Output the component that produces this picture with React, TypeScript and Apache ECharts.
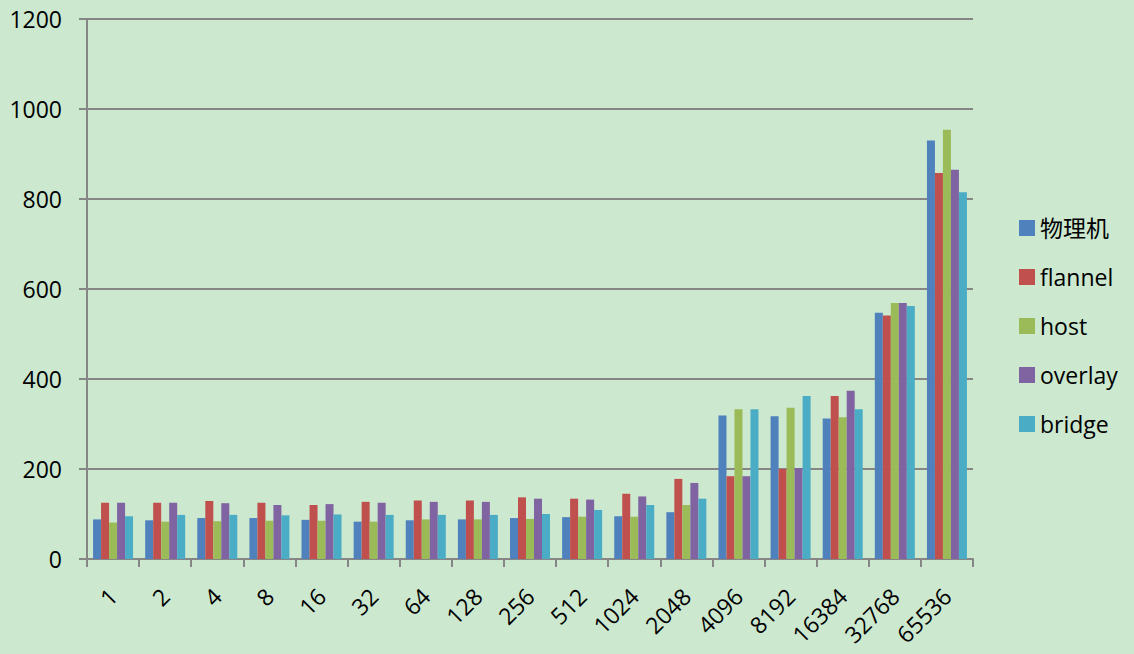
import React, { useEffect, useRef } from "react";
import * as echarts from "echarts";

const categories = ["1", "2", "4", "8", "16", "32", "64", "128", "256", "512", "1024", "2048", "4096", "8192", "16384", "32768", "65536"];
const seriesNames = ["物理机", "flannel", "host", "overlay", "bridge"];
const physical = [88, 86, 91, 91, 87, 83, 86, 88, 91, 93, 95, 104, 319, 317, 312, 547, 930];
const flannel = [125, 125, 129, 125, 120, 127, 130, 130, 137, 134, 145, 178, 184, 200, 362, 541, 858];
const host = [81, 83, 84, 85, 85, 83, 88, 88, 89, 94, 94, 120, 333, 336, 315, 569, 954];
const overlay = [125, 125, 124, 120, 122, 125, 127, 127, 134, 132, 139, 169, 184, 202, 374, 569, 865];
const bridge = [95, 98, 98, 97, 99, 98, 98, 98, 100, 109, 120, 134, 333, 362, 333, 562, 815];
const colors = ["#4F81BD", "#C0504D", "#9BBB59", "#8064A2", "#4BACC6"];
const yTicks = { min: 0, max: 1200, interval: 200 };

export default function App() {
  const ref = useRef<HTMLDivElement>(null);
  useEffect(() => {
    if (!ref.current) return;
    const chart = echarts.init(ref.current, undefined, { renderer: "svg" });
    const data = [physical, flannel, host, overlay, bridge];
    const font = "'Open Sans', 'Noto Sans CJK SC', sans-serif";
    chart.setOption({
      animation: false,
      backgroundColor: "#CCE8CF",
      textStyle: { fontFamily: font },
      grid: { left: 87, right: 161, top: 19, bottom: 95, containLabel: false },
      legend: {
        orient: "vertical",
        left: 1014,
        top: 211,
        icon: "rect",
        itemWidth: 16,
        itemHeight: 16,
        itemGap: 25,
        textStyle: { fontSize: 23, color: "#000", fontFamily: font, lineHeight: 24 },
        data: seriesNames,
      },
      xAxis: {
        type: "category",
        data: categories,
        boundaryGap: true,
        axisLine: { lineStyle: { color: "#868686", width: 2 } },
        axisTick: { show: true, interval: 0, length: 8, alignWithLabel: false, lineStyle: { color: "#868686", width: 2 } },
        axisLabel: { interval: 0, rotate: 45, margin: 33, fontSize: 23, color: "#000", fontFamily: font },
      },
      yAxis: {
        type: "value",
        min: yTicks.min,
        max: yTicks.max,
        interval: yTicks.interval,
        axisLine: { show: true, lineStyle: { color: "#868686", width: 2 } },
        axisTick: { show: true, length: 8, lineStyle: { color: "#868686", width: 2 } },
        splitLine: { show: true, lineStyle: { color: "#868686", width: 2 } },
        axisLabel: { margin: 25, fontSize: 23, color: "#000", fontFamily: font, formatter: (v: number) => String(v) },
      },
      series: seriesNames.map((name, i) => ({
        name,
        type: "bar",
        data: data[i],
        barWidth: 8,
        barGap: "0%",
        itemStyle: { color: colors[i] },
      })),
    });
    return () => chart.dispose();
  }, []);
  return <div ref={ref} style={{ position: "fixed", left: 0, top: 0, width: 1134, height: 654 }} />;
}
